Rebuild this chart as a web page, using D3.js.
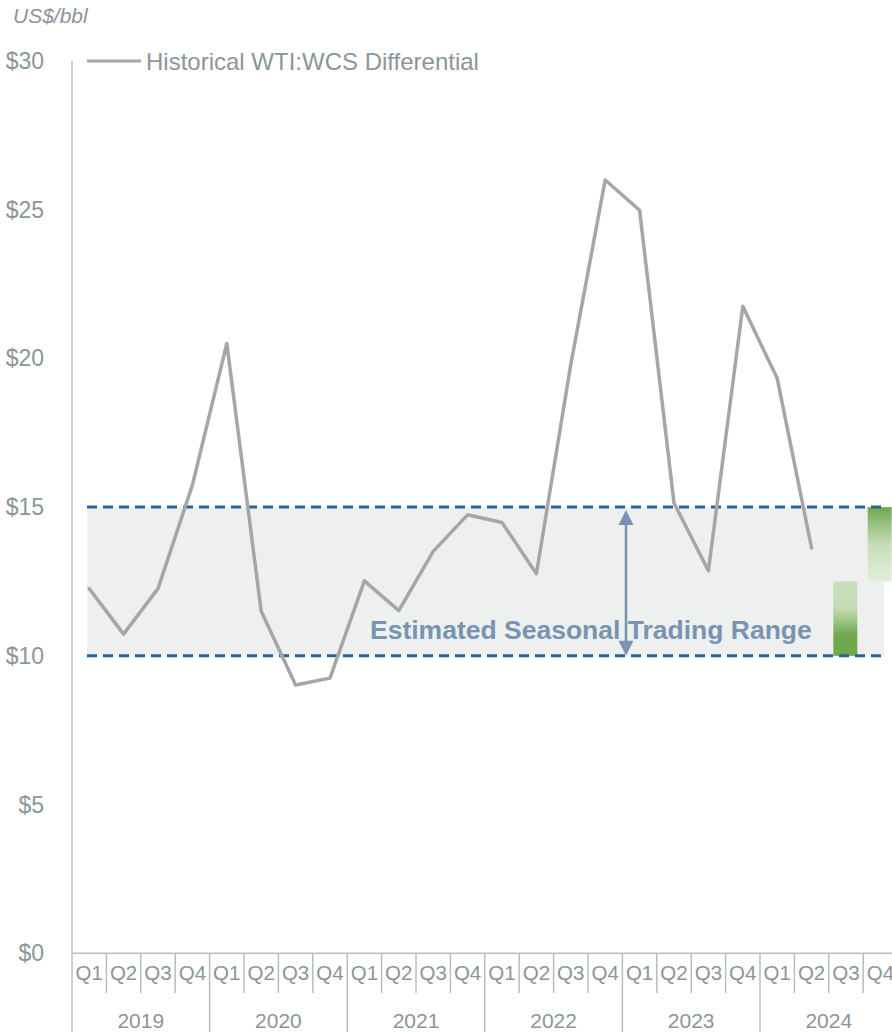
<!DOCTYPE html>
<html>
<head>
<meta charset="utf-8">
<script src="https://cdn.jsdelivr.net/npm/d3@7"></script>
<style>
  html, body { margin: 0; padding: 0; background: #fff; overflow: hidden; }
  text { font-family: "Liberation Sans", Arial, sans-serif; }
</style>
</head>
<body>
<div id="chart"></div>
<script>
// data
const years = ['2019', '2020', '2021', '2022', '2023', '2024'];
const quarters = ['Q1', 'Q2', 'Q3', 'Q4'];
const differential = [
  12.26, 10.73, 12.26, 15.74,
  20.5, 11.5, 9.02, 9.25,
  12.52, 11.52, 13.51, 14.74,
  14.48, 12.76, 19.8, 26.0,
  24.98, 15.14, 12.86, 21.75,
  19.33, 13.62
];
const yTicks = [0, 5, 10, 15, 20, 25, 30];
const rangeLow = 10;
const rangeHigh = 15;
const forecastQuarters = ['2024Q3', '2024Q4'];
const forecastLow = [10, 12.5];
const forecastHigh = [12.5, 15];

const width = 892, height = 1032;
const plotLeft = 72, plotBottom = 953.2, plotTop = 61;
const band = 34.4;

const keys = [];
years.forEach(yr => quarters.forEach(q => keys.push(yr + q)));

const x = d3.scaleBand().domain(keys).range([plotLeft, plotLeft + band * keys.length]);
const y = d3.scaleLinear().domain([0, 30]).range([plotBottom, plotTop]);

const svg = d3.select('#chart').append('svg')
  .attr('width', width)
  .attr('height', height);

const grey = '#8c959b';
const axisCol = '#b7bec2';

// gradients for the forecast bars
const defs = svg.append('defs');
const g1 = defs.append('linearGradient').attr('id', 'gLow')
  .attr('x1', 0).attr('y1', 0).attr('x2', 0).attr('y2', 1);
g1.append('stop').attr('offset', '0%').attr('stop-color', '#c9deba');
g1.append('stop').attr('offset', '35%').attr('stop-color', '#c6dcb6');
g1.append('stop').attr('offset', '72%').attr('stop-color', '#72a950');
g1.append('stop').attr('offset', '100%').attr('stop-color', '#6ea74c');
const g2 = defs.append('linearGradient').attr('id', 'gHigh')
  .attr('x1', 0).attr('y1', 0).attr('x2', 0).attr('y2', 1);
g2.append('stop').attr('offset', '0%').attr('stop-color', '#6fa84d');
g2.append('stop').attr('offset', '50%').attr('stop-color', '#c7ddb8');
g2.append('stop').attr('offset', '100%').attr('stop-color', '#e3eedb');

// shaded trading range
const rangeX0 = x(keys[0]) + 15;
const rangeX1 = x(keys[keys.length - 1]) + 21;
svg.append('rect')
  .attr('x', rangeX0)
  .attr('y', y(rangeHigh))
  .attr('width', rangeX1 - rangeX0)
  .attr('height', y(rangeLow) - y(rangeHigh))
  .attr('fill', '#eef0ef');

// forecast bars
svg.selectAll('.fc')
  .data(forecastQuarters)
  .enter()
  .append('rect')
  .attr('class', 'fc')
  .attr('x', d => x(d) + 4.5)
  .attr('width', 24)
  .attr('y', (d, i) => y(forecastHigh[i]))
  .attr('height', (d, i) => y(forecastLow[i]) - y(forecastHigh[i]))
  .attr('fill', (d, i) => i === 0 ? 'url(#gLow)' : 'url(#gHigh)');

// dashed range lines
svg.selectAll('.rl')
  .data([rangeHigh, rangeLow])
  .enter()
  .append('line')
  .attr('class', 'rl')
  .attr('x1', rangeX0)
  .attr('x2', rangeX1 - 3)
  .attr('y1', d => y(d))
  .attr('y2', d => y(d))
  .attr('stroke', '#2c6298')
  .attr('stroke-width', 3)
  .attr('stroke-dasharray', '10,6');

// label and arrow
const arrowCol = '#7894b2';
svg.append('text')
  .attr('x', 370)
  .attr('y', 639)
  .attr('fill', arrowCol)
  .attr('font-size', 26.5)
  .attr('font-weight', 'bold')
  .text('Estimated Seasonal Trading Range');

const ax = 626;
svg.append('line')
  .attr('x1', ax).attr('x2', ax)
  .attr('y1', y(rangeHigh) + 14).attr('y2', y(rangeLow) - 14)
  .attr('stroke', arrowCol).attr('stroke-width', 2.5);
svg.append('path')
  .attr('d', `M${ax},${y(rangeHigh) + 3} L${ax - 7.5},${y(rangeHigh) + 18} L${ax + 7.5},${y(rangeHigh) + 18} Z`)
  .attr('fill', arrowCol);
svg.append('path')
  .attr('d', `M${ax},${y(rangeLow)} L${ax - 7.5},${y(rangeLow) - 15} L${ax + 7.5},${y(rangeLow) - 15} Z`)
  .attr('fill', arrowCol);

// history line
const line = d3.line()
  .x((d, i) => x(keys[i]) + x.bandwidth() / 2)
  .y(d => y(d));
svg.append('path')
  .datum(differential)
  .attr('d', line)
  .attr('fill', 'none')
  .attr('stroke', '#a6a6a6')
  .attr('stroke-width', 3.5)
  .attr('stroke-linejoin', 'round')
  .attr('stroke-linecap', 'round');

// axes
svg.append('line')
  .attr('x1', plotLeft).attr('x2', plotLeft)
  .attr('y1', plotTop).attr('y2', height)
  .attr('stroke', axisCol).attr('stroke-width', 1.5);
svg.append('line')
  .attr('x1', plotLeft).attr('x2', width)
  .attr('y1', plotBottom).attr('y2', plotBottom)
  .attr('stroke', axisCol).attr('stroke-width', 1.5);

svg.selectAll('.yt')
  .data(yTicks)
  .enter()
  .append('text')
  .attr('class', 'yt')
  .attr('x', 44)
  .attr('y', d => y(d) + 8)
  .attr('text-anchor', 'end')
  .attr('font-size', 23)
  .attr('fill', grey)
  .text(d => '$' + d);

svg.append('text')
  .attr('x', 13)
  .attr('y', 23)
  .attr('font-size', 21)
  .attr('font-style', 'italic')
  .attr('fill', grey)
  .text('US$/bbl');

// quarter separators and labels
svg.selectAll('.qs')
  .data(keys.slice(1))
  .enter()
  .append('line')
  .attr('class', 'qs')
  .attr('x1', d => x(d)).attr('x2', d => x(d))
  .attr('y1', plotBottom)
  .attr('y2', d => d.endsWith('Q1') ? height : 993)
  .attr('stroke', axisCol).attr('stroke-width', 1.5);

svg.selectAll('.ql')
  .data(keys)
  .enter()
  .append('text')
  .attr('class', 'ql')
  .attr('x', d => x(d) + x.bandwidth() / 2)
  .attr('y', 980)
  .attr('text-anchor', 'middle')
  .attr('font-size', 20.5)
  .attr('fill', grey)
  .text(d => d.slice(4));

svg.selectAll('.yl')
  .data(years)
  .enter()
  .append('text')
  .attr('class', 'yl')
  .attr('x', d => x(d + 'Q2') + x.bandwidth())
  .attr('y', 1028)
  .attr('text-anchor', 'middle')
  .attr('font-size', 21)
  .attr('fill', grey)
  .text(d => d);

// legend
svg.append('line')
  .attr('x1', 87).attr('x2', 141)
  .attr('y1', 61).attr('y2', 61)
  .attr('stroke', '#a6a6a6').attr('stroke-width', 3);
svg.append('text')
  .attr('x', 146)
  .attr('y', 69.5)
  .attr('font-size', 24)
  .attr('fill', grey)
  .text('Historical WTI:WCS Differential');
</script>
</body>
</html>
